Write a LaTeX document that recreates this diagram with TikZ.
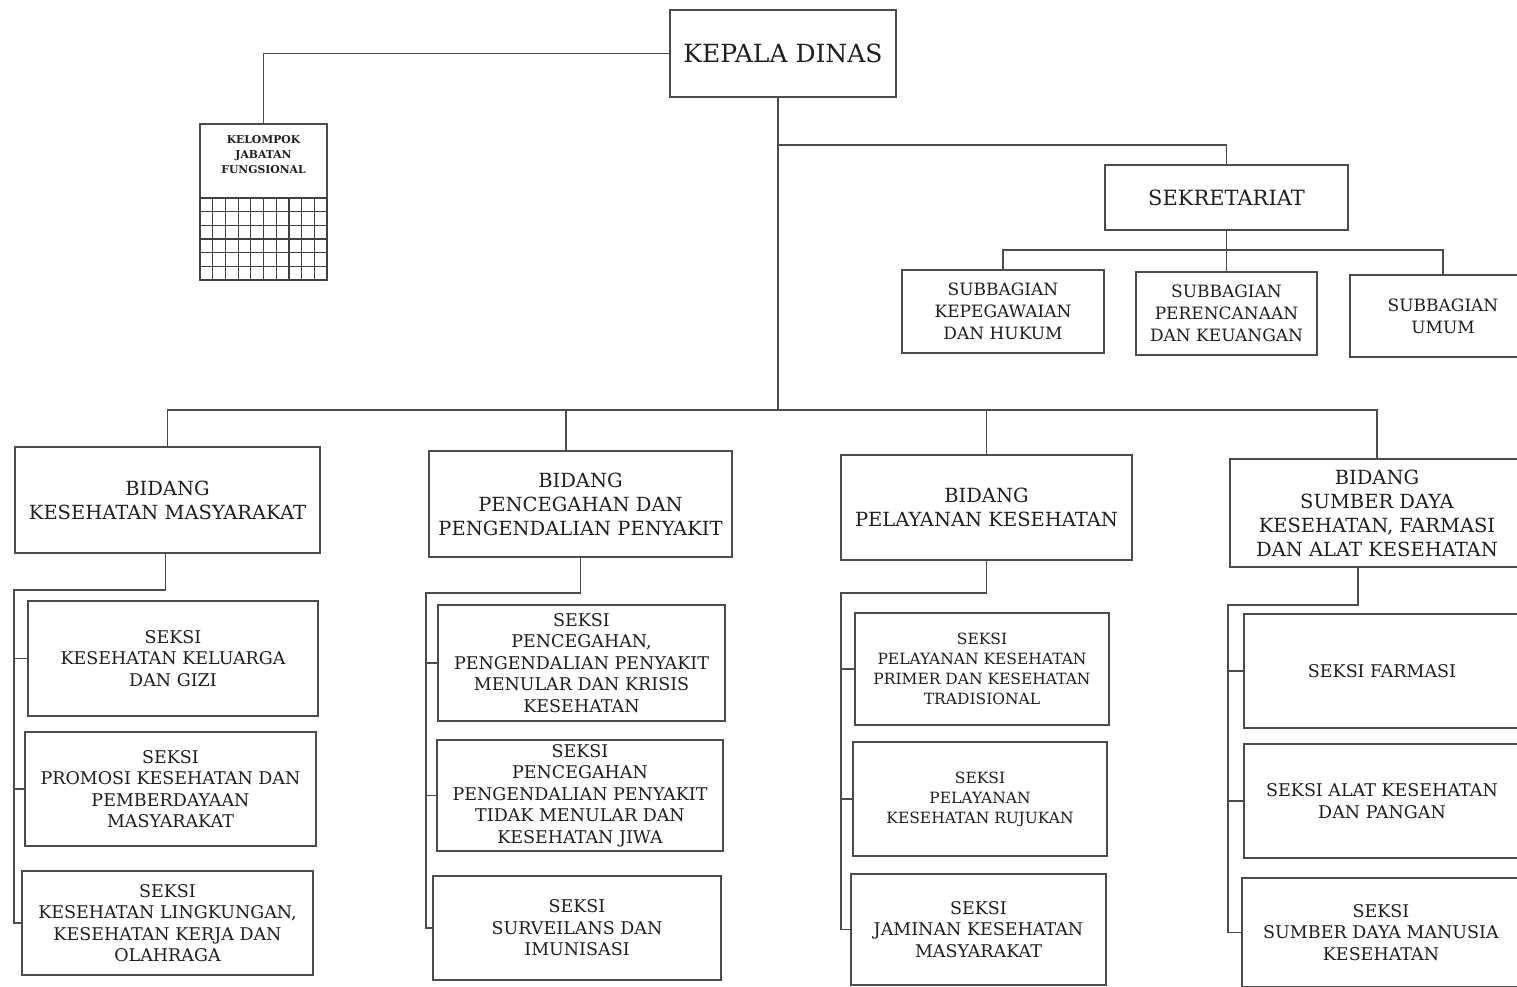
\documentclass[tikz,border=0pt]{standalone}
\usepackage{fontspec}
\setmainfont{DejaVu Serif}
\begin{document}
\begin{tikzpicture}[x=1pt,y=-1pt,
  every node/.style={text=black!88},
  box/.style={draw=black!70, line width=1.2pt, rectangle, inner sep=0pt, align=center},
  conn/.style={draw=black!70, line width=1.2pt},
  fbig/.style={font=\fontsize{25}{30}\selectfont},
  fsek/.style={font=\fontsize{21}{26}\selectfont},
  fbid/.style={font=\fontsize{19.5}{24}\selectfont},
  fsub/.style={font=\fontsize{17}{22}\selectfont},
  fsks/.style={font=\fontsize{17.5}{21.5}\selectfont},
  fsml/.style={font=\fontsize{15.5}{20}\selectfont},
  fkjf/.style={font=\bfseries\fontsize{10.8}{15}\selectfont}
]
\clip (0,0) rectangle (1517,987);
\fill[white] (0,0) rectangle (1517,987);

% top
\node[box,fbig,minimum width=226pt,minimum height=87pt] (KD) at (783,53.5) {KEPALA DINAS};
\node[box,minimum width=127pt,minimum height=156pt] (KJF) at (263.5,202) {};
\node[fkjf,align=center] (KJFT) at (263.5,155) {KELOMPOK\\JABATAN\\FUNGSIONAL};
\foreach \i in {0,...,10} \draw[black!75,line width=1.2pt] (200+12.7*\i,198) -- (200+12.7*\i,280);
\foreach \j in {0,...,6} \draw[black!75,line width=1.2pt] (200,198+13.67*\j) -- (327,198+13.67*\j);

\node[box,fsek,minimum width=243pt,minimum height=65pt] (SEK) at (1226.5,197.5) {SEKRETARIAT};
\node[box,fsub,minimum width=202pt,minimum height=83pt] (SB1) at (1003,311.5) {SUBBAGIAN\\KEPEGAWAIAN\\DAN HUKUM};
\node[box,fsub,minimum width=181pt,minimum height=83pt] (SB2) at (1226.5,313.5) {SUBBAGIAN\\PERENCANAAN\\DAN KEUANGAN};
\node[box,fsub,minimum width=186pt,minimum height=82pt] (SB3) at (1443,316) {SUBBAGIAN\\UMUM};

% bidang
\node[box,fbid,minimum width=305pt,minimum height=106pt] (B1) at (167.5,500) {BIDANG\\KESEHATAN MASYARAKAT};
\node[box,fbid,minimum width=303pt,minimum height=106pt] (B2) at (580.5,504) {BIDANG\\PENCEGAHAN DAN\\PENGENDALIAN PENYAKIT};
\node[box,fbid,minimum width=291pt,minimum height=105pt] (B3) at (986.5,507.5) {BIDANG\\PELAYANAN KESEHATAN};
\node[box,fbid,minimum width=294pt,minimum height=108pt] (B4) at (1377,513) {BIDANG\\SUMBER DAYA\\KESEHATAN, FARMASI\\DAN ALAT KESEHATAN};

% seksi col 1
\node[box,fsks,minimum width=290pt,minimum height=115pt] (S11) at (173,658.5) {SEKSI\\KESEHATAN KELUARGA\\DAN GIZI};
\node[box,fsks,minimum width=291pt,minimum height=114pt] (S12) at (170.5,789) {SEKSI\\PROMOSI KESEHATAN DAN\\PEMBERDAYAAN\\MASYARAKAT};
\node[box,fsks,minimum width=291pt,minimum height=104pt] (S13) at (167.5,923) {SEKSI\\KESEHATAN LINGKUNGAN,\\KESEHATAN KERJA DAN\\OLAHRAGA};
% col 2
\node[box,fsks,minimum width=287pt,minimum height=116pt] (S21) at (581.5,663) {SEKSI\\PENCEGAHAN,\\PENGENDALIAN PENYAKIT\\MENULAR DAN KRISIS\\KESEHATAN};
\node[box,fsks,minimum width=286pt,minimum height=111pt] (S22) at (580,795.5) {SEKSI\\PENCEGAHAN\\PENGENDALIAN PENYAKIT\\TIDAK MENULAR DAN\\KESEHATAN JIWA};
\node[box,fsks,minimum width=288pt,minimum height=104pt] (S23) at (577,928) {SEKSI\\SURVEILANS DAN\\IMUNISASI};
% col 3
\node[box,fsml,minimum width=254pt,minimum height=112pt] (S31) at (982,669) {SEKSI\\PELAYANAN KESEHATAN\\PRIMER DAN KESEHATAN\\TRADISIONAL};
\node[box,fsml,minimum width=254pt,minimum height=114pt] (S32) at (980,799) {SEKSI\\PELAYANAN\\KESEHATAN RUJUKAN};
\node[box,fsks,minimum width=255pt,minimum height=111pt] (S33) at (978.5,929.5) {SEKSI\\JAMINAN KESEHATAN\\MASYARAKAT};
% col 4
\node[box,fsks,minimum width=276pt,minimum height=114pt] (S41) at (1382,671) {SEKSI FARMASI};
\node[box,fsks,minimum width=276pt,minimum height=114pt] (S42) at (1382,801) {SEKSI ALAT KESEHATAN\\DAN PANGAN};
\node[box,fsks,minimum width=278pt,minimum height=109pt] (S43) at (1381,932.5) {SEKSI\\SUMBER DAYA MANUSIA\\KESEHATAN};

% connectors top
\draw[conn] (KD.west) -| (KJF.north);
\coordinate (kdb) at (778,410);
\draw[conn] ([xshift=-5pt]KD.south) -- (kdb);
\coordinate (sekb) at (778,145);
\draw[conn] (sekb) -| (SEK.north);
\coordinate (subbus) at (1226.5,250);
\draw[conn] (SEK.south) -- (subbus);
\draw[conn] (SB1.north) |- (subbus) -| (SB3.north);
\draw[conn] (subbus) -- (SB2.north);

% main bus
\coordinate (b2top) at (566,410);
\draw[conn] (B1.north) |- (kdb) -| (B4.north);
\draw[conn] (b2top) -- (b2top |- B2.north);
\draw[conn] (B3.north) -- (B3.north |- kdb);

% col 1
\coordinate (sp1) at (14,590);
\draw[conn] ([xshift=-2pt]B1.south) |- (sp1) |- (S13.west);
\draw[conn] (sp1 |- S11.west) -- (S11.west);
\draw[conn] (sp1 |- S12.west) -- (S12.west);
% col 2
\coordinate (sp2) at (426,593);
\draw[conn] (B2.south) |- (sp2) |- (S23.west);
\draw[conn] (sp2 |- S21.west) -- (S21.west);
\draw[conn] (sp2 |- S22.west) -- (S22.west);
% col 3
\coordinate (sp3) at (841,593);
\draw[conn] (B3.south) |- (sp3) |- (S33.west);
\draw[conn] (sp3 |- S31.west) -- (S31.west);
\draw[conn] (sp3 |- S32.west) -- (S32.west);
% col 4
\coordinate (sp4) at (1228,605);
\draw[conn] ([xshift=-19pt]B4.south) |- (sp4) |- (S43.west);
\draw[conn] (sp4 |- S41.west) -- (S41.west);
\draw[conn] (sp4 |- S42.west) -- (S42.west);
\end{tikzpicture}
\end{document}
